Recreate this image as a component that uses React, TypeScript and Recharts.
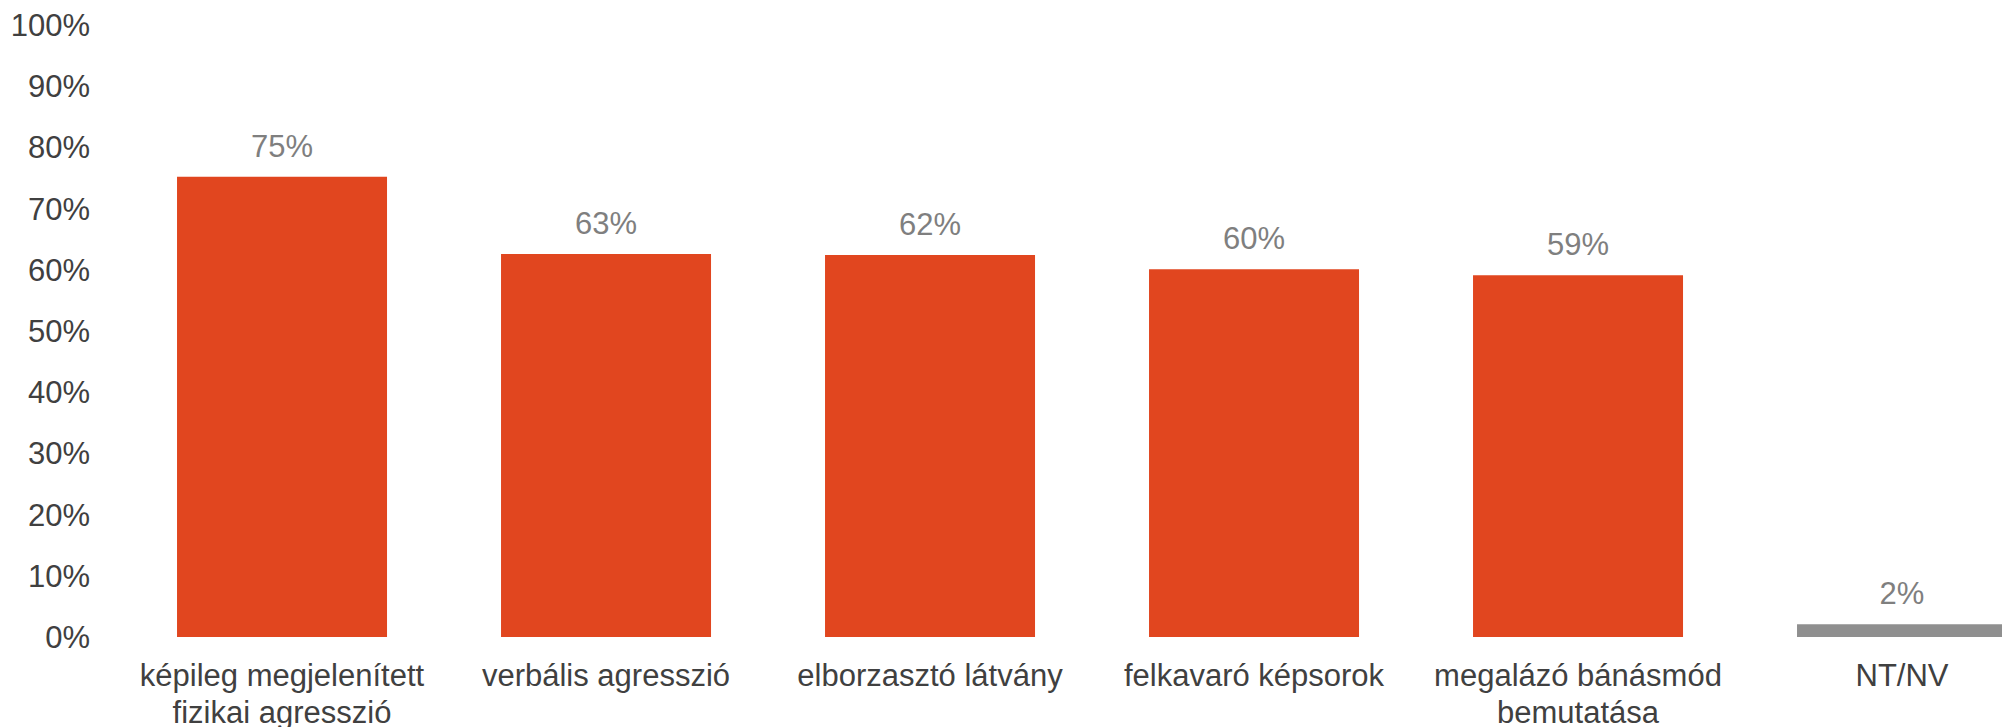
import React from "react"
import { BarChart, Bar, XAxis, YAxis, Cell, LabelList } from "recharts"

const categories = [
  "képileg megjelenített\nfizikai agresszió",
  "verbális agresszió",
  "elborzasztó látvány",
  "felkavaró képsorok",
  "megalázó bánásmód\nbemutatása",
  "NT/NV",
]
const values = [75.2, 62.6, 62.4, 60.1, 59.1, 2.1]
const barColors = ["#E1461F", "#E1461F", "#E1461F", "#E1461F", "#E1461F", "#8F8F8F"]
const yTicks = [0, 10, 20, 30, 40, 50, 60, 70, 80, 90, 100]

const data = categories.map((name, i) => ({ name, value: values[i] }))

const FONT = "'Liberation Sans', Arial, sans-serif"

function CategoryTick(props: any) {
  const { x, y, payload } = props
  const lines = String(payload.value).split("\n")
  return (
    <text x={x} y={y} textAnchor="middle" fill="#404040" fontSize={31} fontFamily={FONT}>
      {lines.map((line, i) => (
        <tspan key={i} x={x} dy={i === 0 ? "0.71em" : 37}>
          {line}
        </tspan>
      ))}
    </text>
  )
}

export default function App() {
  return (
    <div
      style={{
        position: "absolute",
        left: 0,
        top: 0,
        width: 2002,
        height: 727,
        overflow: "hidden",
        fontFamily: FONT,
      }}
    >
      <BarChart
        width={2078}
        height={727}
        data={data}
        margin={{ top: 25, right: 14, left: 0, bottom: 0 }}
        barCategoryGap="17.6%"
      >
        <XAxis
          dataKey="name"
          axisLine={false}
          tickLine={false}
          tickSize={0}
          tickMargin={27}
          height={90}
          interval={0}
          tick={<CategoryTick />}
        />
        <YAxis
          width={120}
          domain={[0, 100]}
          ticks={yTicks}
          axisLine={false}
          tickLine={false}
          tickSize={0}
          tickMargin={30}
          tickFormatter={(v: number) => `${v}%`}
          tick={{ fontSize: 31, fill: "#404040", fontFamily: FONT }}
        />
        <Bar dataKey="value" isAnimationActive={false}>
          {data.map((d, i) => (
            <Cell key={d.name} fill={barColors[i]} />
          ))}
          <LabelList
            dataKey="value"
            position="top"
            offset={20}
            formatter={(v: any) => `${Math.round(Number(v))}%`}
            style={{ fontSize: 31, fill: "#7F7F7F", fontFamily: FONT }}
          />
        </Bar>
      </BarChart>
    </div>
  )
}
